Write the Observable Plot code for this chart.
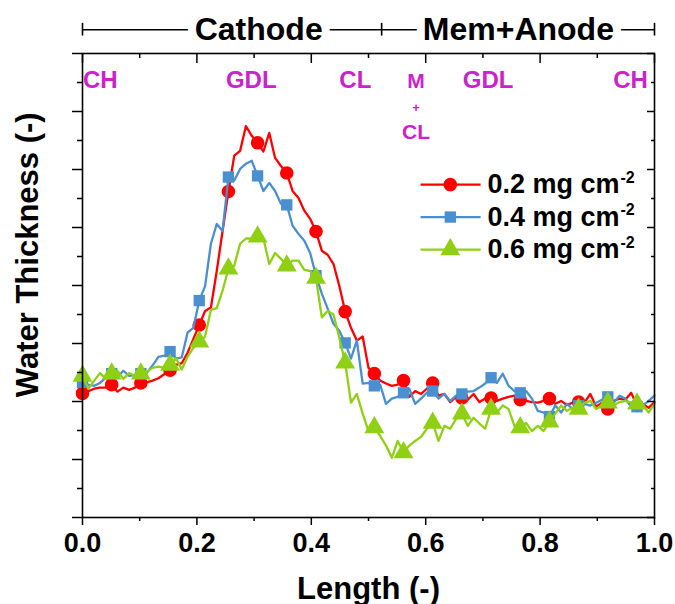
<!DOCTYPE html>
<html><head><meta charset="utf-8">
<script src="https://cdn.jsdelivr.net/npm/d3@7"></script>
<script src="https://cdn.jsdelivr.net/npm/@observablehq/plot@0.6"></script>
<style>body{margin:0;background:#fff} #chart svg{display:block}</style>
</head><body><div id="chart"></div>
<script>
// ---- data ----
const lengthX = [0, 0.0102, 0.0204, 0.0306, 0.0408, 0.051, 0.0612, 0.0714, 0.0816, 0.0918,
  0.102, 0.1122, 0.1224, 0.1327, 0.1429, 0.1531, 0.1633, 0.1735, 0.1837, 0.1939,
  0.2041, 0.2143, 0.2245, 0.2347, 0.2449, 0.2551, 0.2653, 0.2755, 0.2857, 0.2959,
  0.3061, 0.3163, 0.3265, 0.3367, 0.3469, 0.3571, 0.3673, 0.3776, 0.3878, 0.398,
  0.4082, 0.4184, 0.4286, 0.4388, 0.449, 0.4592, 0.4694, 0.4796, 0.4898, 0.5,
  0.5102, 0.5204, 0.5306, 0.5408, 0.551, 0.5612, 0.5714, 0.5816, 0.5918, 0.602,
  0.6122, 0.6224, 0.6327, 0.6429, 0.6531, 0.6633, 0.6735, 0.6837, 0.6939, 0.7041,
  0.7143, 0.7245, 0.7347, 0.7449, 0.7551, 0.7653, 0.7755, 0.7857, 0.7959, 0.8061,
  0.8163, 0.8265, 0.8367, 0.8469, 0.8571, 0.8673, 0.8776, 0.8878, 0.898, 0.9082,
  0.9184, 0.9286, 0.9388, 0.949, 0.9592, 0.9694, 0.9796, 0.9898, 1];

const water02 = [2.14, 2.18, 2.22, 2.24, 2.24, 2.29, 2.17, 2.24, 2.20, 2.24,
  2.32, 2.33, 2.36, 2.40, 2.47, 2.54, 2.63, 2.66, 2.84, 3.08,
  3.32, 3.56, 3.62, 4.25, 4.94, 5.62, 6.24, 6.32, 6.75, 6.58,
  6.46, 6.31, 6.63, 6.20, 6.06, 5.94, 5.63, 5.51, 5.29, 5.15,
  4.93, 4.60, 4.53, 4.37, 3.99, 3.55, 3.27, 3.05, 3.12, 2.58,
  2.48, 2.36, 2.31, 2.27, 2.29, 2.36, 2.08, 2.18, 2.13, 2.22,
  2.32, 2.10, 2.13, 1.99, 2.08, 2.06, 2.03, 2.13, 1.99, 2.05,
  2.06, 2.01, 2.05, 2.08, 2.10, 2.03, 2.01, 1.99, 1.98, 2.01,
  2.05, 1.96, 2.01, 1.94, 1.98, 1.99, 1.98, 2.13, 1.91, 1.98,
  1.87, 2.01, 2.05, 2.03, 2.15, 1.93, 1.96, 1.89, 1.99];

const water04 = [2.33, 2.29, 2.27, 2.32, 2.41, 2.48, 2.43, 2.53, 2.44, 2.46,
  2.48, 2.49, 2.62, 2.77, 2.79, 2.86, 2.74, 2.76, 3.19, 3.27,
  3.74, 3.99, 4.72, 5.06, 4.94, 5.87, 5.81, 6.01, 6.10, 6.15,
  5.89, 5.63, 5.77, 5.63, 5.41, 5.39, 5.03, 4.89, 4.77, 4.56,
  4.17, 3.86, 3.60, 3.34, 3.22, 3.01, 2.74, 3.05, 2.31, 2.32,
  2.27, 2.29, 1.96, 2.05, 2.08, 2.15, 2.22, 1.96, 2.05, 2.15,
  2.18, 2.05, 2.13, 2.01, 2.10, 2.13, 2.17, 2.18, 2.24, 2.31,
  2.41, 2.32, 2.48, 2.27, 2.18, 2.15, 2.18, 2.05, 1.84, 1.81,
  1.74, 1.93, 1.81, 1.96, 1.87, 1.93, 1.96, 1.93, 1.98, 2.03,
  2.08, 1.98, 2.10, 2.05, 1.91, 1.91, 1.93, 2.01, 2.10];

const water06 = [2.44, 2.22, 2.36, 2.49, 2.39, 2.48, 2.53, 2.39, 2.49, 2.44,
  2.48, 2.51, 2.58, 2.60, 2.58, 2.63, 2.75, 2.55, 2.77, 2.93,
  3.03, 3.12, 3.58, 3.61, 3.91, 4.29, 4.34, 4.72, 4.81, 4.81,
  4.84, 4.81, 4.37, 4.56, 4.46, 4.34, 4.43, 4.43, 4.27, 4.25,
  4.13, 3.45, 3.56, 3.50, 3.10, 2.67, 1.98, 2.13, 1.79, 1.49,
  1.55, 1.41, 1.24, 1.03, 1.32, 1.12, 1.24, 1.32, 1.39, 1.53,
  1.63, 1.32, 1.58, 1.53, 1.70, 1.79, 1.58, 1.72, 1.62, 1.53,
  1.87, 1.81, 1.93, 1.87, 1.58, 1.55, 1.63, 1.49, 1.58, 1.49,
  1.65, 1.79, 1.93, 1.84, 1.89, 1.87, 1.98, 2.01, 1.87, 1.94,
  1.98, 1.93, 1.99, 2.01, 1.98, 1.96, 1.94, 1.81, 1.96];

const seriesLabels = ["0.2 mg cm", "0.4 mg cm", "0.6 mg cm"];
const unitExponent = "-2";

const xMajorTicks = [0, 0.2, 0.4, 0.6, 0.8, 1.0];
const xMinorTicks = [0.1, 0.3, 0.5, 0.7, 0.9];
const yMajorTicks = [0, 1, 2, 3, 4, 5, 6, 7, 8];
const yMinorTicks = [0.5, 1.5, 2.5, 3.5, 4.5, 5.5, 6.5, 7.5];

const regionNames = ["CH", "GDL", "CL", "M", "GDL", "CH"];
const regionX = [0.031, 0.295, 0.477, 0.583, 0.709, 0.958];
const subRegionNames = ["+", "CL"];
const subRegionX = [0.583, 0.583];

const sectionNames = ["Cathode", "Mem+Anode"];
const sectionLabelX = [0.308, 0.762];
const sectionBounds = [0, 0.523, 1];

const xTitle = "Length (-)";
const yTitle = "Water Thickness (-)";

// ---- styles / layout ----
const colors = ["#ff0000", "#4a8fd0", "#8fcf14"];
const symbols = ["circle", "square", "triangle"];
const symbolR = [6.8, 6.4, 7.4];
const FONT = "'Liberation Sans', Arial, Helvetica, sans-serif";
const BRACKET_Y = 8.41;
const LEG_X0 = 0.591, LEG_X1 = 0.696, LEG_XM = 0.643, LEG_XT = 0.708;
const LEG_Y = [5.74, 5.18, 4.62];
const YTITLE_X = -0.0944, YTITLE_Y = 4.53;

const seriesValues = [water02, water04, water06];
const rows = seriesValues.flatMap((vals, s) =>
  vals.map((v, i) => ({x: lengthX[i], y: v, i, s})));

const marks = [];
seriesValues.forEach((vals, s) => {
  const data = rows.filter(d => d.s === s);
  marks.push(Plot.line(data, {x: "x", y: "y", stroke: colors[s], strokeWidth: 2.3}));
  marks.push(Plot.dot(data.filter(d => d.i % 5 === 0),
    {x: "x", y: "y", symbol: () => symbols[s], r: symbolR[s], fill: colors[s], stroke: "none"}));
});

// frame and axes
marks.push(Plot.frame({stroke: "black", strokeWidth: 1.6}));
marks.push(Plot.axisX({ticks: xMajorTicks, tickSize: 8, tickPadding: 7, tickFormat: d3.format(".1f"),
  fontSize: 27, label: null, strokeWidth: 1.5}));
marks.push(Plot.axisX({ticks: xMinorTicks, tickSize: 4, tickFormat: () => "", label: null, strokeWidth: 1.5}));
marks.push(Plot.axisX({anchor: "top", ticks: xMajorTicks, tickSize: -9, tickFormat: () => "", label: null, strokeWidth: 1.5}));
marks.push(Plot.axisX({anchor: "top", ticks: xMinorTicks, tickSize: -4, tickFormat: () => "", label: null, strokeWidth: 1.5}));
marks.push(Plot.axisY({ticks: yMajorTicks, tickSize: 10, tickFormat: () => "", label: null, strokeWidth: 1.5}));
marks.push(Plot.axisY({ticks: yMinorTicks, tickSize: 5, tickFormat: () => "", label: null, strokeWidth: 1.5}));
marks.push(Plot.axisY({anchor: "right", ticks: yMajorTicks, tickSize: -8, tickFormat: () => "", label: null, strokeWidth: 1.5}));
marks.push(Plot.axisY({anchor: "right", ticks: yMinorTicks, tickSize: -4, tickFormat: () => "", label: null, strokeWidth: 1.5}));

// axis titles
marks.push(Plot.text([xTitle], {frameAnchor: "bottom", dy: 81, lineAnchor: "bottom",
  text: d => d, fontSize: 31, fill: "black"}));
marks.push(Plot.text([yTitle], {x: YTITLE_X, y: YTITLE_Y, rotate: -90,
  lineAnchor: "middle", text: d => d, fontSize: 31, fill: "black"}));

// region labels
marks.push(Plot.text(regionNames, {x: (d, i) => regionX[i], y: 7.41, lineAnchor: "bottom",
  text: d => d, fill: "#cc22cc", fontSize: (d) => d === "M" ? 21 : 24}));
marks.push(Plot.text(subRegionNames, {x: (d, i) => subRegionX[i], y: (d) => d === "+" ? 6.99 : 6.53,
  lineAnchor: "bottom", text: d => d, fill: "#cc22cc", fontSize: (d) => d === "+" ? 13 : 21}));

// section bracket above frame
marks.push(Plot.ruleY([BRACKET_Y], {y: d => d, x1: sectionBounds[0], x2: sectionBounds[sectionBounds.length - 1],
  stroke: "black", strokeWidth: 1.6}));
marks.push(Plot.ruleX(sectionBounds, {x: d => d, y1: BRACKET_Y - 0.11, y2: BRACKET_Y + 0.11,
  stroke: "black", strokeWidth: 1.6}));
marks.push(Plot.text(sectionNames, {x: (d, i) => sectionLabelX[i], y: BRACKET_Y, lineAnchor: "middle",
  text: d => d, fontSize: 32, fill: "black", stroke: "white", strokeWidth: 16, paintOrder: "stroke",
  strokeLinejoin: "round"}));

// legend
seriesLabels.forEach((lab, s) => {
  marks.push(Plot.link([lab], {x1: LEG_X0, x2: LEG_X1, y1: LEG_Y[s], y2: LEG_Y[s], stroke: colors[s], strokeWidth: 2.3}));
  marks.push(Plot.dot([lab], {x: LEG_XM, y: LEG_Y[s], symbol: () => symbols[s], r: symbolR[s], fill: colors[s], stroke: "none"}));
  marks.push(Plot.text([lab], {x: LEG_XT, y: LEG_Y[s], text: d => d, textAnchor: "start", lineAnchor: "middle",
    fontSize: 27, fill: "black"}));
  marks.push(Plot.text([unitExponent], {x: LEG_XT, y: LEG_Y[s], dx: 133, dy: -2, text: d => d, textAnchor: "start",
    lineAnchor: "bottom", fontSize: 16, fill: "black"}));
});

const chart = Plot.plot({
  width: 675,
  height: 604,
  marginLeft: 82,
  marginRight: 21,
  marginTop: 53,
  marginBottom: 87,
  x: {domain: [0, 1]},
  y: {domain: [0, 8]},
  style: {fontFamily: FONT, fontWeight: "bold", background: "white", overflow: "visible"},
  marks
});
document.getElementById("chart").appendChild(chart);
</script>
</body></html>
